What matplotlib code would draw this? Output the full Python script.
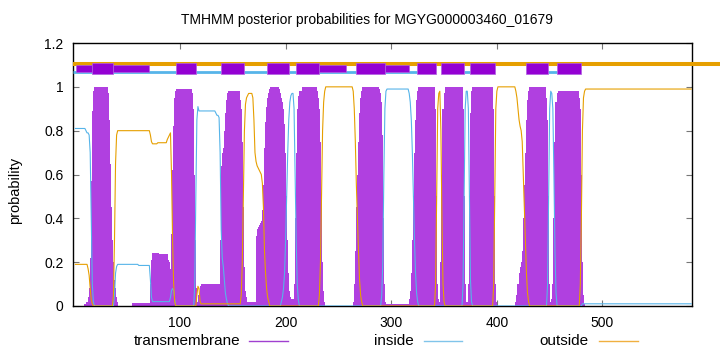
import numpy as np
import matplotlib
matplotlib.use('Agg')
import matplotlib.pyplot as plt
from matplotlib.lines import Line2D

plt.rcParams['font.family'] = ['Liberation Sans', 'DejaVu Sans']

# posterior probability per residue, written as (value, number of residues)
transmembrane_runs = [
    (0.0, 9), (0.01, 2), (0.02, 1), (0.04, 1), (0.08, 1), (0.22, 1), (0.57, 1), (0.89, 1), (0.98, 1),
    (1.0, 13), (0.97, 1), (0.85, 1), (0.65, 1), (0.45, 1), (0.3, 1), (0.2, 1), (0.12, 1), (0.08, 1),
    (0.04, 1), (0.02, 1), (0.0, 13), (0.015, 17), (0.1, 1), (0.21, 1), (0.24, 7), (0.235, 8),
    (0.21, 1), (0.2, 1), (0.17, 1), (0.33, 1), (0.62, 1), (0.82, 1), (0.95, 1), (0.98, 1), (0.99, 15),
    (0.97, 1), (0.9, 1), (0.6, 1), (0.3, 1), (0.08, 1), (0.02, 1), (0.05, 1), (0.09, 1), (0.1, 18),
    (0.3, 1), (0.64, 1), (0.7, 1), (0.72, 1), (0.8, 1), (0.88, 1), (0.94, 1), (0.97, 1), (0.98, 11),
    (0.94, 1), (0.9, 1), (0.75, 1), (0.45, 1), (0.18, 1), (0.07, 1), (0.04, 1), (0.02, 8),
    (0.32, 1), (0.35, 1), (0.36, 1), (0.37, 1), (0.38, 1), (0.39, 1), (0.44, 1), (0.55, 1), (0.72, 1),
    (0.84, 1), (0.91, 1), (0.95, 1), (0.97, 1), (0.99, 1), (1.0, 8),
    (0.99, 1), (0.97, 1), (0.95, 1), (0.93, 1), (0.9, 1), (0.83, 1), (0.7, 1), (0.5, 1), (0.3, 1),
    (0.15, 1), (0.07, 1), (0.04, 1), (0.03, 2), (0.1, 1), (0.4, 1), (0.7, 1), (0.9, 1), (0.96, 1),
    (0.98, 3), (1.0, 14), (0.98, 1), (0.95, 1), (0.9, 1), (0.75, 1), (0.5, 1), (0.2, 1), (0.07, 1),
    (0.02, 1), (0.0, 26), (0.02, 1), (0.1, 1), (0.25, 1), (0.45, 1), (0.6, 1), (0.75, 1), (0.88, 1),
    (0.95, 1), (0.98, 1), (1.0, 16), (0.99, 1), (0.97, 1), (0.93, 1), (0.78, 1), (0.4, 1), (0.1, 1),
    (0.02, 1), (0.01, 21), (0.03, 1), (0.07, 1), (0.15, 1), (0.3, 1), (0.5, 1), (0.7, 1), (0.85, 1),
    (0.94, 1), (0.98, 1), (1.0, 16), (0.9, 1), (0.5, 1), (0.1, 1), (0.03, 1), (0.02, 1), (0.2, 1),
    (0.6, 1), (0.9, 1), (0.97, 1), (1.0, 17), (0.9, 1), (0.5, 1), (0.1, 1), (0.02, 2), (0.1, 1),
    (0.5, 1), (0.88, 1), (0.98, 1), (1.0, 20), (0.9, 1), (0.5, 1), (0.1, 1), (0.02, 1), (0.0, 17),
    (0.02, 1), (0.05, 1), (0.1, 1), (0.15, 1), (0.18, 1), (0.2, 1), (0.25, 1), (0.4, 1), (0.55, 1),
    (0.7, 1), (0.85, 1), (0.94, 1), (0.98, 1), (1.0, 16), (0.95, 1), (0.85, 1), (0.5, 1), (0.1, 1),
    (0.02, 1), (0.03, 1), (0.1, 1), (0.4, 1), (0.75, 1), (0.93, 1), (0.97, 1), (0.98, 20), (0.95, 1),
    (0.9, 1), (0.6, 1), (0.2, 1), (0.05, 1), (0.01, 1), (0.0, 101),
]

inside_runs = [
    (0.81, 10), (0.8, 1), (0.79, 2), (0.78, 1), (0.7, 1), (0.4, 1), (0.1, 1), (0.02, 1), (0.0, 19),
    (0.05, 1), (0.15, 1), (0.18, 1), (0.19, 20), (0.185, 11), (0.12, 1), (0.04, 1), (0.02, 17),
    (0.04, 1), (0.07, 1), (0.08, 1), (0.07, 1), (0.03, 1), (0.0, 18), (0.1, 1), (0.5, 1), (0.85, 1),
    (0.91, 1), (0.89, 16), (0.88, 1), (0.87, 2), (0.86, 1), (0.7, 1), (0.35, 1), (0.22, 1), (0.18, 1),
    (0.12, 1), (0.06, 1), (0.03, 1), (0.01, 1), (0.0, 50), (0.02, 1), (0.04, 1), (0.08, 1), (0.15, 1),
    (0.3, 1), (0.5, 1), (0.7, 1), (0.85, 1), (0.93, 1), (0.96, 1), (0.97, 2), (0.9, 1), (0.6, 1),
    (0.3, 1), (0.1, 1), (0.03, 1), (0.0, 78), (0.05, 1), (0.2, 1), (0.6, 1), (0.9, 1), (0.98, 1),
    (0.99, 21), (0.97, 1), (0.93, 1), (0.85, 1), (0.7, 1), (0.5, 1), (0.3, 1), (0.15, 1), (0.06, 1),
    (0.02, 1), (0.0, 42), (0.1, 1), (0.5, 1), (0.9, 1), (0.98, 2), (0.9, 1), (0.5, 1), (0.12, 1),
    (0.02, 1), (0.0, 71), (0.1, 1), (0.5, 1), (0.9, 1), (0.98, 1), (0.97, 1), (0.9, 1), (0.6, 1),
    (0.25, 1), (0.06, 1), (0.0, 24), (0.01, 104),
]

outside_runs = [
    (0.19, 12), (0.17, 1), (0.14, 1), (0.08, 1), (0.03, 1), (0.01, 1), (0.0, 19), (0.05, 1), (0.3, 1),
    (0.65, 1), (0.78, 1), (0.8, 31), (0.78, 1), (0.75, 1), (0.74, 5), (0.745, 9), (0.76, 1), (0.77, 1),
    (0.78, 1), (0.79, 1), (0.6, 1), (0.3, 1), (0.1, 1), (0.02, 1), (0.0, 20), (0.05, 1), (0.09, 1),
    (0.08, 1), (0.02, 1), (0.01, 38), (0.05, 1), (0.2, 1), (0.5, 1), (0.8, 1), (0.92, 1), (0.95, 1),
    (0.96, 1), (0.97, 4), (0.95, 1), (0.85, 1), (0.7, 1), (0.66, 1), (0.64, 1), (0.63, 1), (0.62, 1),
    (0.61, 1), (0.6, 1), (0.56, 1), (0.45, 1), (0.25, 1), (0.15, 1), (0.08, 1), (0.04, 1), (0.02, 1),
    (0.0, 47), (0.05, 1), (0.2, 1), (0.5, 1), (0.8, 1), (0.93, 1), (0.98, 1), (1.0, 26), (0.98, 1),
    (0.9, 1), (0.75, 1), (0.55, 1), (0.4, 1), (0.25, 1), (0.12, 1), (0.05, 1), (0.02, 1), (0.0, 69),
    (0.1, 1), (0.5, 1), (0.9, 1), (0.97, 1), (0.98, 1), (0.8, 1), (0.4, 1), (0.1, 1), (0.02, 1),
    (0.0, 46), (0.1, 1), (0.5, 1), (0.9, 1), (0.98, 1), (1.0, 17), (0.98, 1), (0.95, 1), (0.9, 1),
    (0.85, 1), (0.82, 1), (0.8, 1), (0.75, 1), (0.6, 1), (0.45, 1), (0.3, 1), (0.15, 1), (0.06, 1),
    (0.02, 1), (0.0, 48), (0.1, 1), (0.4, 1), (0.8, 1), (0.95, 1), (0.98, 1), (0.99, 101),
]

# predicted topology strip at the top (residue ranges)
tm_helices = [(17, 37), (96, 115), (139, 161), (182, 203), (210, 232), (267, 294),
              (324, 342), (347, 369), (375, 398), (428, 448), (457, 480)]
tm_weak = [(2, 17), (37, 71), (232, 257), (294, 317)]
inside_segs = [(-1, 17), (37, 96), (115, 139), (161, 182), (203, 210), (232, 267),
               (294, 324), (369, 375), (448, 457)]
outside_seg = (-1, 620)


def expand(runs):
    vals = []
    for v, n in runs:
        vals += [v] * n
    return np.array(vals)


tm = expand(transmembrane_runs)
inside = expand(inside_runs)
outside = expand(outside_runs)
pos = np.arange(1, len(tm) + 1)

purple = '#b040e0'
blue = '#56b4e9'
orange = '#e69f00'

fig = plt.figure(figsize=(7.2, 3.52), dpi=100)
ax = fig.add_axes([0.1018, 0.1307, 0.8597, 0.7471])

ax.bar(pos, tm, width=1.0, color=purple, linewidth=0, antialiased=False, zorder=2)
ax.plot(pos, inside, color=blue, lw=0.8, zorder=3)
ax.plot(pos, outside, color=orange, lw=0.8, zorder=3)

# topology strip
ax.plot(outside_seg, [1.105, 1.105], color=orange, lw=2.9, solid_capstyle='butt',
        clip_on=False, zorder=4)
for a, b in inside_segs:
    ax.plot([max(a, -1), b], [1.066, 1.066], color=blue, lw=2.0, solid_capstyle='butt', zorder=4)
ax.broken_barh([(a, b - a) for a, b in tm_weak], (1.069, 0.031),
               facecolor='#9400d3', edgecolor='#b060e0', lw=0.5, zorder=5)
ax.broken_barh([(a, b - a) for a, b in tm_helices], (1.058, 0.052),
               facecolor='#9400d3', edgecolor='#b060e0', lw=0.5, zorder=6)

ax.set_xlim(-1, 585)
ax.set_ylim(0, 1.2)
ax.set_xticks([100, 200, 300, 400, 500])
ax.set_yticks([0, 0.2, 0.4, 0.6, 0.8, 1.0, 1.2])
ax.set_yticklabels(['0', '0.2', '0.4', '0.6', '0.8', '1', '1.2'])
ax.tick_params(direction='in', top=True, right=True, length=4, width=0.8,
               color='#777777', labelsize=10, pad=7)
for s in ax.spines.values():
    s.set_linewidth(1.0)

fig.text(367 / 720, 1 - 20 / 352, 'TMHMM posterior probabilities for MGYG000003460_01679',
         ha='center', va='center', fontsize=10)
fig.text(15 / 720, 1 - 190 / 352, 'probability', rotation=90, ha='center', va='center', fontsize=10.5)

# legend in gnuplot style: label then line sample
legend = [('transmembrane', '#a040d0', 240, 249, 288),
          ('inside', '#80c4ea', 414, 424, 462),
          ('outside', '#f0b040', 589, 599, 638)]
ly = 1 - 341 / 352
for label, c, tx, x0, x1 in legend:
    fig.text(tx / 720, ly, label, ha='right', va='center', fontsize=11)
    fig.add_artist(Line2D([x0 / 720, x1 / 720], [ly, ly], color=c, lw=1.0))

plt.savefig('out.png', dpi=100)
